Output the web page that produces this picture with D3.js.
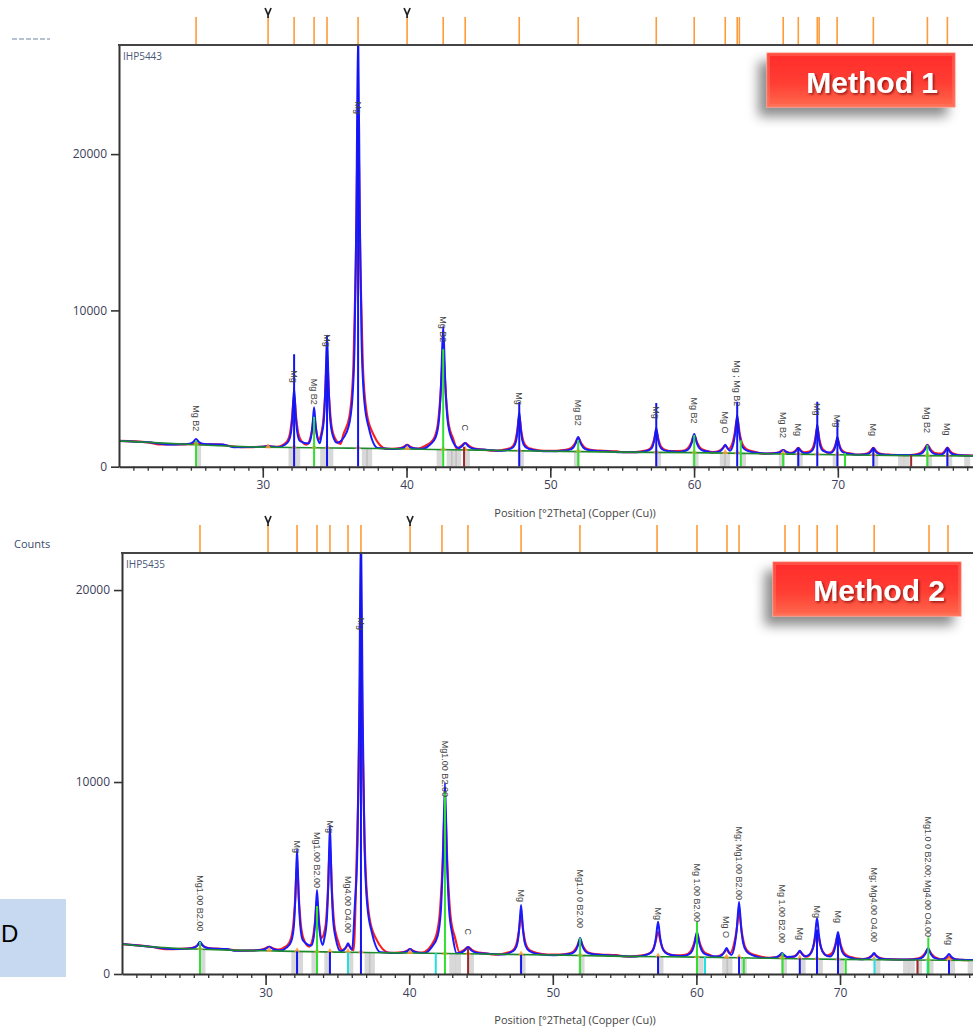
<!DOCTYPE html>
<html>
<head>
<meta charset="utf-8">
<script src="https://cdn.jsdelivr.net/npm/d3@7"></script>
<style>
body { margin: 0; background: #fff; }
svg { display: block; font-family: "Liberation Sans", Arial, sans-serif; }
</style>
</head>
<body>
<svg width="973" height="1028"></svg>
<script>
// ---- data ----
var xTicks = [30, 40, 50, 60, 70];
var yTicks = [0, 10000, 20000];
var xTitle = "Position [°2Theta] (Copper (Cu))";

// Method 1 (IHP5443)
var topBackground = [[20,1650],[22,1560],[25,1420],[28,1300],[30,1250],[32,1230],[35,1200],[38,1160],[40,1130],[45,1060],[50,990],[55,930],[60,900],[65,830],[70,760],[75,710],[80,690]];
var topPeakPos   = [25.36,30.37,32.18,33.57,34.47,36.63,40.04,42.55,44.08,47.84,51.94,57.37,60.01,62.17,63.0,66.2,67.25,68.57,69.97,72.47,76.23,77.62];
var topPeakBase  = [1420,1250,1230,1220,1210,1190,1130,1100,1070,1020,985,930,900,880,875,830,815,800,780,745,715,705];
var topPeakCalc  = [1770,1330,5000,3800,8400,28000,1390,9000,1510,3500,1900,2500,2100,1400,3300,1070,1200,2700,1900,1200,1390,1220];
var topPeakObs   = [1500,1330,4600,3200,6900,21800,1390,7200,1510,3200,1850,2300,2000,1350,3100,1070,1200,2500,1750,1200,1390,1220];
var topPeakWidth = [1.5,2,1,1,1,1.1,1.5,1.3,2,1,1.6,1.1,1.5,1.5,1.2,1.5,1.3,1,1.1,1.3,1.6,1.3];
var topPeakLabel = ["Mg B2","","Mg","Mg B2","Mg","Mg","","Mg B2","C","Mg","Mg B2","Mg","Mg B2","Mg O","Mg ; Mg B2","Mg B2","Mg","Mg","Mg","Mg","Mg B2","Mg"];
var topMarkers = [25.36,30.37,32.18,33.57,34.47,36.63,40.04,42.55,44.08,47.84,51.94,57.37,60.01,62.17,63.0,63.15,66.2,67.25,68.57,68.7,69.95,72.47,76.23,77.62];
var topChevrons = [30.37, 40.04];
var topMg   = [[32.18,7200],[34.47,8400],[36.63,27000],[47.84,4140],[57.37,4080],[63.0,4150],[67.25,1200],[68.57,4160],[69.97,3000],[72.47,1200],[77.62,1200]];
var topMgB2 = [[25.36,1700],[33.57,3190],[42.55,7520],[51.94,1700],[60.01,2030],[63.25,1700],[66.2,870],[70.5,870],[76.23,1390]];
var topMgO  = [];
var topC    = [[44.0,1280],[75.1,750]];
var topGrey = [[25.5,1400],[32.0,1230],[32.4,1230],[34.2,1210],[34.7,1210],[37.1,1190],[37.4,1190],[42.3,1100],[43.0,1090],[43.3,1080],[43.6,1080],[44.2,1070],[47.95,1020],[51.85,985],[57.5,930],[60.1,900],[62.0,880],[62.3,880],[63.4,875],[66.1,830],[67.35,815],[69.85,780],[72.6,745],[74.4,720],[74.8,720],[76.35,715],[77.75,705],[79.0,690]];

// Method 2 (IHP5435)
var bottomBackground = [[20,1560],[22,1420],[25,1300],[28,1230],[30,1210],[32,1180],[35,1140],[38,1110],[40,1090],[45,1040],[50,990],[55,920],[60,880],[65,820],[70,760],[75,730],[80,700]];
var bottomPeakPos   = [25.43,30.25,32.19,33.58,34.48,35.74,36.64,40.06,42.49,44.1,47.79,51.9,57.33,60.04,62.1,62.97,65.96,67.2,68.4,69.86,72.37,76.13,77.59];
var bottomPeakBase  = [1300,1210,1180,1160,1150,1140,1130,1090,1060,1045,1010,980,910,880,860,855,820,810,800,770,750,730,720];
var bottomPeakCalc  = [1680,1420,6510,4375,7760,1600,23500,1300,9950,1400,3590,1870,2720,2200,1350,3770,1090,1210,2920,2190,1090,1350,1040];
var bottomPeakObs   = [1600,1420,5680,3850,6720,1510,17290,1300,8600,1400,3125,1770,2190,2080,1250,3230,990,1150,2290,2030,1040,1300,890];
var bottomPeakWidth = [1.5,2,1,1,1,1.3,1.1,1.5,1.3,2,1.1,1.5,1.3,1.5,1.5,1.3,1.6,1.6,1.3,1.4,1.5,1.6,1.5];
var bottomPeakLabel = ["Mg1.00 B2.00","","Mg","Mg1.00 B2.00","Mg","Mg4.00 O4.00","Mg","","Mg1.00 B2.00","C","Mg","Mg1.0 0 B2.00","Mg","Mg 1.00 B2.00","Mg O","Mg; Mg1.00 B2.00","Mg 1.00 B2.00","Mg","Mg","Mg","Mg; Mg4.00 O4.00","Mg1.0 0 B2.00; Mg4.00 O4.00","Mg"];
var bottomMarkers = [25.43,30.17,32.19,33.58,34.48,35.74,36.64,40.06,42.28,44.09,47.79,51.89,57.26,60.04,62.13,62.97,66.17,67.16,68.41,69.8,72.38,76.2,77.52];
var bottomChevrons = [30.17, 40.06];
var bottomMg   = [[32.19,1180],[34.48,1150],[36.64,23500],[47.79,1000],[57.33,920],[62.97,900],[67.2,820],[68.4,2300],[69.86,2000],[77.59,720]];
var bottomMgB2 = [[25.43,1680],[33.58,3540],[42.49,9500],[51.9,1870],[60.04,2720],[63.3,880],[66.0,1090],[70.4,800],[76.15,1910]];
var bottomMgO  = [[35.74,1140],[41.85,1090],[60.6,880],[72.4,820],[76.1,740]];
var bottomC    = [[44.1,1350],[75.4,730]];
var bottomGrey = [[25.6,1300],[32.0,1180],[32.4,1180],[33.4,1160],[34.3,1150],[35.9,1140],[37.1,1130],[37.4,1130],[43.0,1060],[43.4,1050],[44.3,1045],[47.9,1010],[52.0,980],[57.5,910],[60.3,880],[62.0,860],[62.3,860],[63.3,855],[66.1,820],[67.4,810],[68.6,800],[70.1,770],[72.6,750],[74.6,735],[75.0,735],[75.5,730],[76.3,730],[77.8,720],[79.1,700]];

var svg = d3.select("svg");
var defs = svg.append("defs");

// peak outline used for every reflection: [offset in deg per unit width, fraction of height]
var peakShape = [[-1.2,0],[-0.7,0.04],[-0.4,0.1],[-0.22,0.25],[-0.11,0.55],[0,1],[0.11,0.55],[0.22,0.26],[0.4,0.11],[0.7,0.045],[1.25,0]];

function makePeaks(pos, base, calc, obs, width, label) {
  return pos.map(function(d, i) {
    return {pos: d, base: base[i], calc: calc[i], obs: obs[i], w: width[i], label: label[i]};
  });
}

function profile(bg, peaks, key, wMul) {
  var pts = bg.filter(function(b) {
    return peaks.every(function(pk) { return Math.abs(b[0] - pk.pos) > 1.3 * pk.w * wMul; });
  });
  peaks.forEach(function(pk, i) {
    var lo = i > 0 ? (peaks[i - 1].pos + pk.pos) / 2 : 20,
        hi = i < peaks.length - 1 ? (pk.pos + peaks[i + 1].pos) / 2 : 80;
    peakShape.forEach(function(s) {
      var px = pk.pos + s[0] * pk.w * wMul;
      if (px > lo && px < hi) pts.push([px, pk.base + (pk[key] - pk.base) * s[1]]);
    });
  });
  return pts.sort(function(a, b) { return a[0] - b[0]; });
}

function drawPanel(p) {
  var x = d3.scaleLinear().domain([20, 80]).range([p.left, p.right]);
  var y = d3.scaleLinear().domain([0, p.yMax]).range([p.bottom, p.top]);
  var peaks = makePeaks(p.pos, p.base, p.calc, p.obs, p.width, p.labels);
  var g = svg.append("g");

  defs.append("clipPath").attr("id", "clip" + p.id)
    .append("rect").attr("x", p.left).attr("y", p.top)
    .attr("width", 973 - p.left).attr("height", p.bottom - p.top);

  var plot = g.append("g").attr("clip-path", "url(#clip" + p.id + ")");

  plot.selectAll(".grey").data(p.grey).enter().append("rect")
    .attr("x", function(d) { return x(d[0]) - 3; })
    .attr("width", 6)
    .attr("y", function(d) { return y(d[1]); })
    .attr("height", function(d) { return p.bottom - y(d[1]); })
    .attr("fill", "#a8a8a8").attr("opacity", 0.45);

  var line = d3.line()
    .x(function(d) { return x(d[0]); })
    .y(function(d) { return y(d[1]); })
    .curve(d3.curveMonotoneX);

  plot.append("path").attr("d", line(profile(p.bg, peaks, "obs", 1.35)))
    .attr("fill", "none").attr("stroke", "#ff1e1e").attr("stroke-width", 2.2);
  plot.append("path").attr("d", line(profile(p.bg, peaks, "calc", 1)))
    .attr("fill", "none").attr("stroke", "#1a1aff").attr("stroke-width", 2);
  plot.append("path").attr("d", line(p.bg))
    .attr("fill", "none").attr("stroke", "#1e8a2e").attr("stroke-width", 1.6);

  // small orange marks at the foot of each reflection
  plot.selectAll(".foot").data(peaks).enter().append("path")
    .attr("d", function(d) {
      var cx = x(d.pos), cy = y(d.base);
      return "M" + (cx - 3) + "," + (cy + 1) + "L" + (cx + 3) + "," + (cy + 1) + "L" + cx + "," + (cy - 4) + "Z";
    })
    .attr("fill", "#ff9a30").attr("opacity", 0.85);

  var sticks = [[p.mgo, "#20e0e0"], [p.c, "#a02828"], [p.mgb2, "#30e030"], [p.mg, "#1414ee"]];
  sticks.forEach(function(s) {
    plot.selectAll(null).data(s[0]).enter().append("line")
      .attr("x1", function(d) { return x(d[0]); })
      .attr("x2", function(d) { return x(d[0]); })
      .attr("y1", p.bottom)
      .attr("y2", function(d) { return y(d[1]); })
      .attr("stroke", s[1]).attr("stroke-width", 2);
  });

  // phase labels
  g.selectAll(".lbl").data(peaks.filter(function(d) { return d.label; })).enter().append("text")
    .attr("transform", function(d) { return "translate(" + x(d.pos) + "," + (y(d.obs) - 12) + ") rotate(90)"; })
    .attr("text-anchor", "end").attr("dy", "0.35em")
    .attr("font-size", 9).attr("fill", "#444")
    .text(function(d) { return d.label; });

  // axes
  var xAxis = g.append("g").attr("transform", "translate(0," + p.bottom + ")")
    .call(d3.axisBottom(x).tickValues(xTicks).tickSize(11).tickSizeOuter(0).tickPadding(3).tickFormat(d3.format("d")));
  g.append("g").attr("transform", "translate(0," + p.bottom + ")")
    .call(d3.axisBottom(x).tickValues(d3.range(21, 80)).tickSize(4).tickSizeOuter(0).tickFormat(""))
    .call(function(a) { a.select(".domain").remove(); a.selectAll("line").attr("stroke", "#333").attr("stroke-width", 1.3); });
  xAxis.select(".domain").attr("stroke", "#333").attr("stroke-width", 2);
  xAxis.selectAll("line").attr("stroke", "#333").attr("stroke-width", 1.6);
  xAxis.selectAll("text").attr("font-size", 12).attr("fill", "#3c4058").attr("font-family", "Open Sans, sans-serif");

  var yAxis = g.append("g").attr("transform", "translate(" + p.left + ",0)")
    .call(d3.axisLeft(y).tickValues(yTicks).tickSize(8).tickSizeOuter(0).tickPadding(4).tickFormat(d3.format("d")));
  yAxis.select(".domain").attr("stroke", "#333").attr("stroke-width", 2);
  yAxis.selectAll("line").attr("stroke", "#333").attr("stroke-width", 1.6);
  yAxis.selectAll("text").attr("font-size", 12).attr("fill", "#3c4058").attr("font-family", "Open Sans, sans-serif");

  // top frame line
  g.append("line").attr("x1", p.left - 1).attr("x2", 973).attr("y1", p.top).attr("y2", p.top)
    .attr("stroke", "#444").attr("stroke-width", 2);

  // peak-list markers above the frame
  g.selectAll(".mark").data(p.markers).enter().append("line")
    .attr("x1", function(d) { return x(d); }).attr("x2", function(d) { return x(d); })
    .attr("y1", p.top - 28).attr("y2", p.top - 1)
    .attr("stroke", "#ff9b3a").attr("stroke-width", 1.6);
  g.selectAll(".chev").data(p.chevrons).enter().append("path")
    .attr("d", function(d) {
      var cx = x(d), t = p.top - 37;
      return "M" + (cx - 3) + "," + t + "L" + cx + "," + (t + 7) + "L" + (cx + 3) + "," + t + "M" + cx + "," + (t + 7) + "L" + cx + "," + (t + 10);
    })
    .attr("fill", "none").attr("stroke", "#222").attr("stroke-width", 1.7);

  g.append("text").attr("x", p.left + 4).attr("y", p.top + 15)
    .attr("font-size", 10).attr("fill", "#4a5878").attr("font-family", "Open Sans, sans-serif")
    .text(p.name);

  g.append("text").attr("x", 575).attr("y", p.bottom + 50)
    .attr("text-anchor", "middle").attr("font-size", 11).attr("fill", "#444")
    .attr("font-family", "Open Sans, sans-serif")
    .text(xTitle);
}

drawPanel({
  id: "top", name: "IHP5443", left: 119, right: 981.6, top: 45, bottom: 466.7, yMax: 26980,
  bg: topBackground, pos: topPeakPos, base: topPeakBase, calc: topPeakCalc, obs: topPeakObs,
  width: topPeakWidth, labels: topPeakLabel, markers: topMarkers, chevrons: topChevrons,
  mg: topMg, mgb2: topMgB2, mgo: topMgO, c: topC, grey: topGrey
});
drawPanel({
  id: "bottom", name: "IHP5435", left: 122, right: 983.6, top: 553, bottom: 974, yMax: 21930,
  bg: bottomBackground, pos: bottomPeakPos, base: bottomPeakBase, calc: bottomPeakCalc, obs: bottomPeakObs,
  width: bottomPeakWidth, labels: bottomPeakLabel, markers: bottomMarkers, chevrons: bottomChevrons,
  mg: bottomMg, mgb2: bottomMgB2, mgo: bottomMgO, c: bottomC, grey: bottomGrey
});

// side bits
svg.append("line").attr("x1", 12).attr("x2", 50).attr("y1", 39).attr("y2", 39)
  .attr("stroke", "#7a8aa6").attr("stroke-width", 1.5).attr("stroke-dasharray", "5,2").attr("opacity", 0.7);
svg.append("text").attr("x", 14).attr("y", 548).attr("font-size", 11).attr("fill", "#3a4a6a")
  .attr("font-family", "Open Sans, sans-serif").text("Counts");
svg.append("rect").attr("x", 0).attr("y", 899).attr("width", 66).attr("height", 78).attr("fill", "#c6d9f1");
svg.append("text").attr("x", 1).attr("y", 942).attr("font-size", 24).attr("fill", "#000").text("D");

// method badges
var grad = defs.append("linearGradient").attr("id", "badge").attr("x1", 0).attr("y1", 0).attr("x2", 0).attr("y2", 1);
grad.append("stop").attr("offset", "0%").attr("stop-color", "#ff2b2b");
grad.append("stop").attr("offset", "55%").attr("stop-color", "#ff3d33");
grad.append("stop").attr("offset", "100%").attr("stop-color", "#ff6a4e");
var shadow = defs.append("filter").attr("id", "shadow").attr("x", "-30%").attr("y", "-30%").attr("width", "160%").attr("height", "180%");
shadow.append("feDropShadow").attr("dx", -8).attr("dy", 9).attr("stdDeviation", 6)
  .attr("flood-color", "#000").attr("flood-opacity", 0.45);
var tshadow = defs.append("filter").attr("id", "tshadow");
tshadow.append("feDropShadow").attr("dx", 1.5).attr("dy", 1.5).attr("stdDeviation", 1)
  .attr("flood-color", "#600").attr("flood-opacity", 0.7);

var badges = [
  {text: "Method 1", x: 767, y: 53, tx: 938, ty: 93},
  {text: "Method 2", x: 773, y: 562, tx: 945, ty: 601}
];
badges.forEach(function(b) {
  svg.append("rect").attr("x", b.x).attr("y", b.y).attr("width", 188).attr("height", 54)
    .attr("fill", "url(#badge)").attr("stroke", "#ff8c78").attr("stroke-width", 1)
    .attr("filter", "url(#shadow)");
  svg.append("rect").attr("x", b.x + 2).attr("y", b.y + 2).attr("width", 184).attr("height", 50)
    .attr("fill", "none").attr("stroke", "#ff7a68").attr("stroke-width", 1.5).attr("opacity", 0.6);
  svg.append("text").attr("x", b.tx).attr("y", b.ty).attr("text-anchor", "end")
    .attr("font-size", 30).attr("font-weight", "bold").attr("fill", "#fff")
    .attr("filter", "url(#tshadow)").text(b.text);
});
</script>
</body>
</html>
